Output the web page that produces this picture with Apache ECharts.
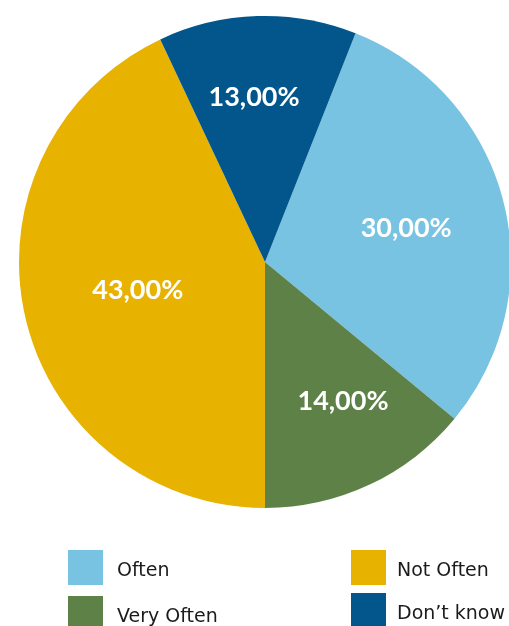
<!DOCTYPE html>
<html>
<head>
<meta charset="utf-8">
<script src="https://cdn.jsdelivr.net/npm/echarts@6/dist/echarts.min.js"></script>
<style>
  html, body { margin: 0; padding: 0; background: #ffffff; }
  #chart { width: 509px; height: 626px; }
</style>
</head>
<body>
<div id="chart"></div>
<script>
// Survey answer shares (percent)
const categories = ['Often', 'Very Often', 'Not Often', "Don\u2019t know"];
const shares = [30, 14, 43, 13];
const colors = ['#78C3E2', '#5E8148', '#E7B200', '#02568C'];

// Label placement inside each slice: fraction of radius and small angle nudge (deg)
const labelRadiusFrac = [0.59, 0.65, 0.53, 0.67];
const labelAngleNudge = [1, -4, 0, -2];

// Legend entry anchors (left, top) for the two-column key
const legendSlots = [[68, 550], [68, 596], [351, 550], [351, 593]];
const legendTextGap = [9, 9, 6, 6];

const CX = 265, CY = 262, R = 246;
const START_ANGLE = 68.4; // degrees, counter-clockwise from 3 o'clock

const total = shares.reduce((a, b) => a + b, 0);
function midAngleClockwiseFromTop(i) {
  let before = 0;
  for (let k = 0; k < i; k++) before += shares[k];
  return (90 - START_ANGLE) + (before + shares[i] / 2) / total * 360;
}

const chart = echarts.init(document.getElementById('chart'), null, { renderer: 'canvas' });

const legends = categories.map((name, i) => ({
  data: [name],
  left: legendSlots[i][0],
  top: legendSlots[i][1],
  padding: 0,
  itemWidth: 35,
  itemHeight: 35,
  icon: 'rect',
  selectedMode: false,
  formatter: n => '{t|' + n + '}',
  textStyle: {
    rich: {
      t: {
        fontFamily: 'DejaVu Sans',
        fontSize: 19,
        color: '#1b1b1b',
        padding: [8, 0, 0, legendTextGap[i]]
      }
    }
  }
}));

chart.setOption({
  backgroundColor: '#ffffff',
  animation: false,
  color: colors,
  legend: legends,
  series: [{
    type: 'pie',
    center: [CX, CY],
    radius: [0, R],
    startAngle: START_ANGLE,
    clockwise: true,
    silent: true,
    itemStyle: { borderWidth: 0 },
    label: {
      show: true,
      position: 'inside',
      formatter: p => p.value.toFixed(2).replace('.', ',') + '%',
      fontFamily: 'Lato',
      fontWeight: 'bold',
      fontSize: 27,
      color: '#ffffff'
    },
    labelLine: { show: false },
    labelLayout: function (p) {
      const i = p.dataIndex;
      const a = (midAngleClockwiseFromTop(i) + labelAngleNudge[i]) * Math.PI / 180;
      const r = R * labelRadiusFrac[i];
      return {
        x: CX + r * Math.sin(a),
        y: CY - r * Math.cos(a),
        align: 'center',
        verticalAlign: 'middle'
      };
    },
    data: categories.map((name, i) => ({ name: name, value: shares[i] }))
  }]
});
</script>
</body>
</html>
